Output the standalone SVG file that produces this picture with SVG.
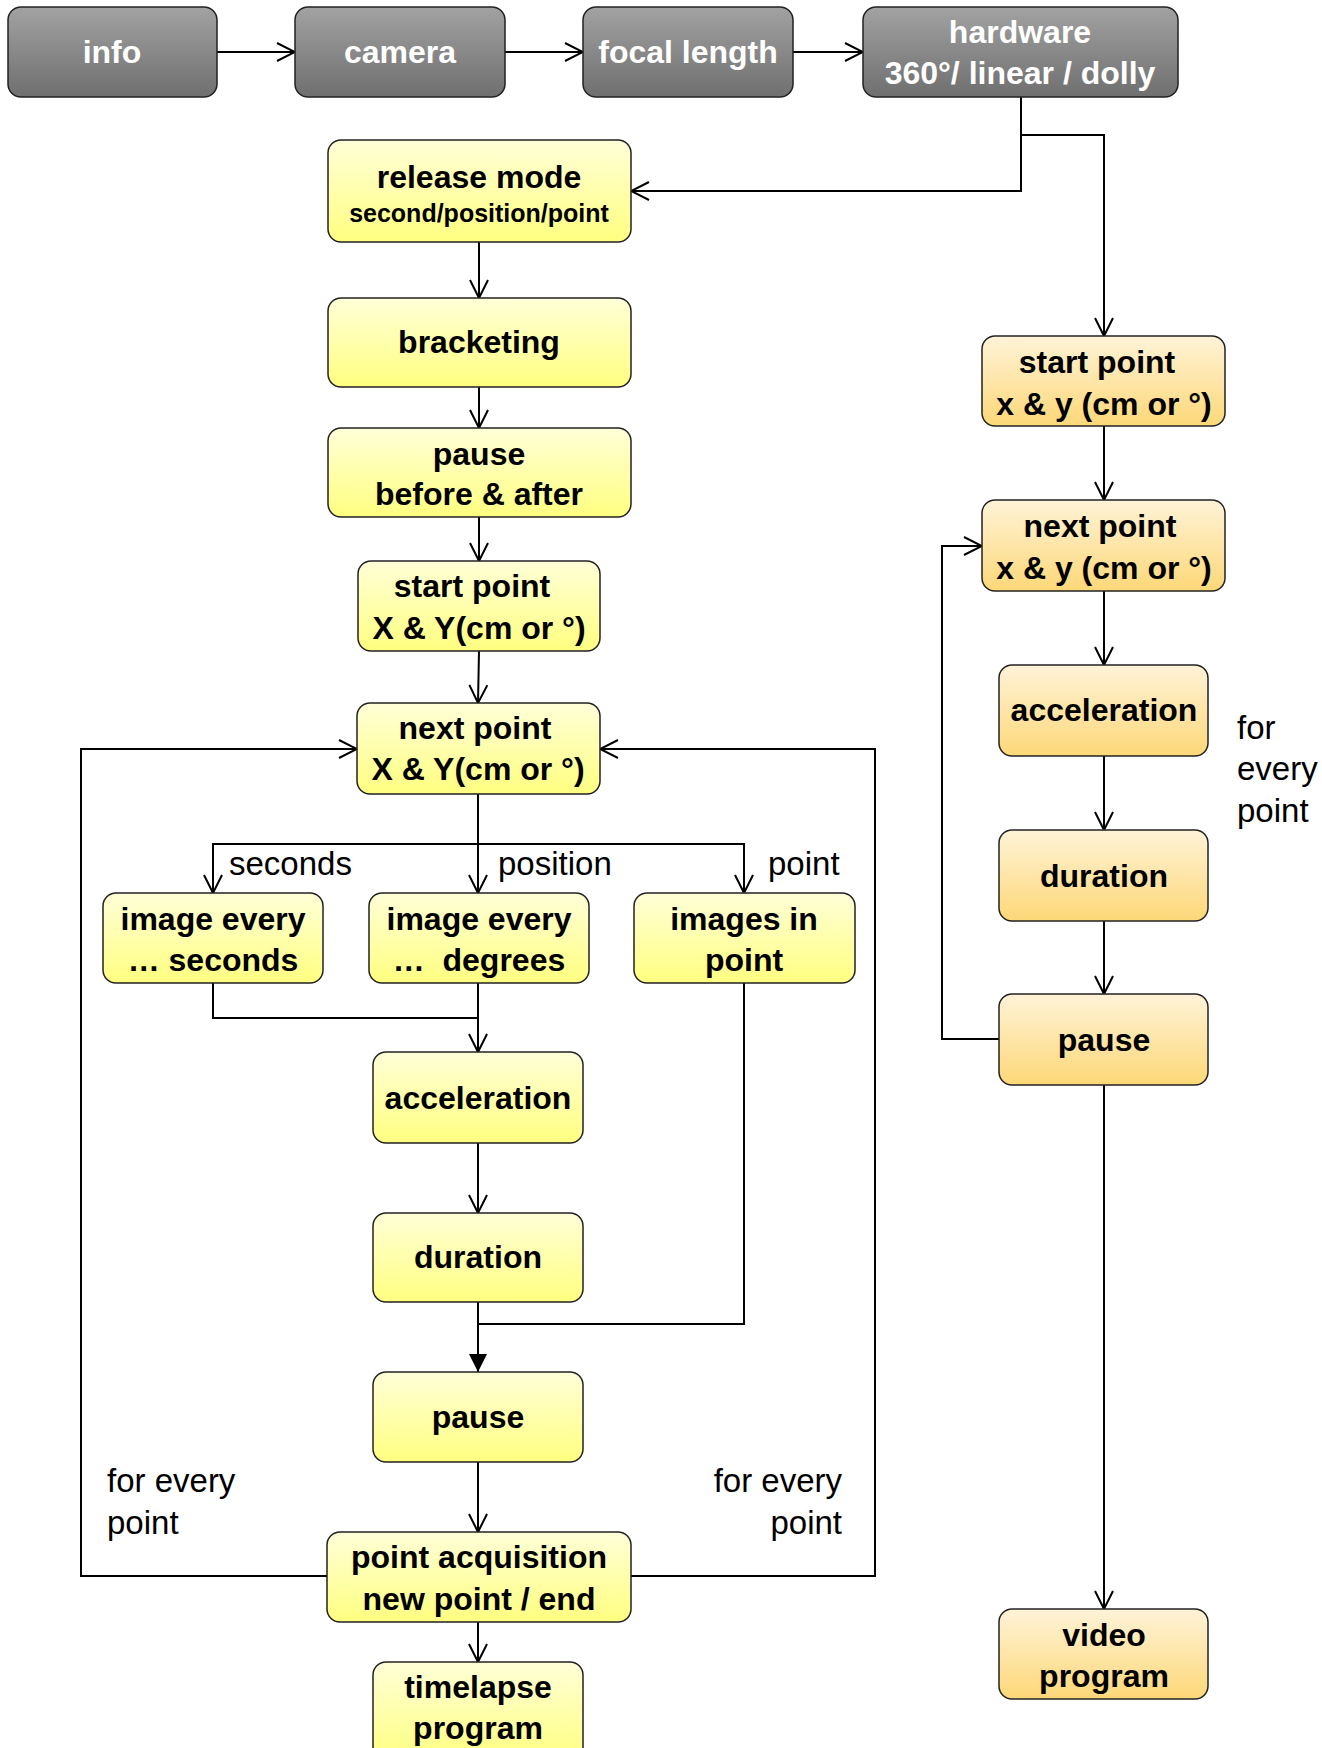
<svg xmlns="http://www.w3.org/2000/svg" width="1322" height="1748" viewBox="0 0 1322 1748">
<style>
.gray{fill:url(#gGray);stroke:#222;stroke-width:1.5}
.yel{fill:url(#gYel);stroke:#222;stroke-width:1.5}
.org{fill:url(#gOrg);stroke:#222;stroke-width:1.5}
.t{font-family:"Liberation Sans",Arial,sans-serif;font-weight:bold;font-size:32px;fill:#000;text-anchor:middle}
.tw{font-family:"Liberation Sans",Arial,sans-serif;font-weight:bold;font-size:32px;fill:#fff;text-anchor:middle}
.ts{font-family:"Liberation Sans",Arial,sans-serif;font-weight:bold;font-size:25px;fill:#000;text-anchor:middle}
.lab{font-family:"Liberation Sans",Arial,sans-serif;font-size:33px;fill:#000}
.c{fill:none;stroke:#000;stroke-width:2}
</style>
<defs>
<linearGradient id="gGray" x1="0" y1="0" x2="0" y2="1"><stop offset="0" stop-color="#a2a2a2"/><stop offset="1" stop-color="#6f6f6f"/></linearGradient>
<linearGradient id="gYel" x1="0" y1="0" x2="0" y2="1"><stop offset="0" stop-color="#ffffd8"/><stop offset="1" stop-color="#ffff80"/></linearGradient>
<linearGradient id="gOrg" x1="0" y1="0" x2="0" y2="1"><stop offset="0" stop-color="#fff3d8"/><stop offset="1" stop-color="#fdd878"/></linearGradient>
<marker id="a" viewBox="0 0 20 20" refX="19" refY="10" markerWidth="20" markerHeight="20" markerUnits="userSpaceOnUse" orient="auto">
<path d="M1,1 L19,10 L1,19" fill="none" stroke="#000" stroke-width="2"/>
</marker>
<marker id="f" viewBox="0 0 20 20" refX="19" refY="10" markerWidth="20" markerHeight="20" markerUnits="userSpaceOnUse" orient="auto">
<path d="M1,1 L19,10 L1,19 Z" fill="#000"/>
</marker>
</defs>

<g id="connectors">
<line class="c" x1="217" y1="52" x2="295" y2="52" marker-end="url(#a)"/>
<line class="c" x1="505" y1="52" x2="583" y2="52" marker-end="url(#a)"/>
<line class="c" x1="793" y1="52" x2="863" y2="52" marker-end="url(#a)"/>
<polyline class="c" points="1021,97 1021,191 631,191" marker-end="url(#a)"/>
<polyline class="c" points="1021,135 1104,135 1104,336" marker-end="url(#a)"/>
<line class="c" x1="479" y1="242" x2="479" y2="298" marker-end="url(#a)"/>
<line class="c" x1="479" y1="387" x2="479" y2="428" marker-end="url(#a)"/>
<line class="c" x1="479" y1="517" x2="479" y2="561" marker-end="url(#a)"/>
<line class="c" x1="479" y1="651" x2="478" y2="703" marker-end="url(#a)"/>
<line class="c" x1="478" y1="794" x2="478" y2="893" marker-end="url(#a)"/>
<polyline class="c" points="478,844 213,844 213,893" marker-end="url(#a)"/>
<polyline class="c" points="478,844 744,844 744,893" marker-end="url(#a)"/>
<polyline class="c" points="213,983 213,1018 478,1018"/>
<line class="c" x1="478" y1="983" x2="478" y2="1052" marker-end="url(#a)"/>
<line class="c" x1="478" y1="1143" x2="478" y2="1213" marker-end="url(#a)"/>
<line class="c" x1="478" y1="1302" x2="478" y2="1372" marker-end="url(#f)"/>
<polyline class="c" points="744,983 744,1324 478,1324"/>
<line class="c" x1="478" y1="1462" x2="478" y2="1532" marker-end="url(#a)"/>
<line class="c" x1="478" y1="1622" x2="478" y2="1662" marker-end="url(#a)"/>
<polyline class="c" points="327,1576 81,1576 81,749 357,749" marker-end="url(#a)"/>
<polyline class="c" points="631,1576 875,1576 875,749 600,749" marker-end="url(#a)"/>
<line class="c" x1="1104" y1="426" x2="1104" y2="500" marker-end="url(#a)"/>
<line class="c" x1="1104" y1="591" x2="1104" y2="665" marker-end="url(#a)"/>
<line class="c" x1="1104" y1="756" x2="1104" y2="830" marker-end="url(#a)"/>
<line class="c" x1="1104" y1="921" x2="1104" y2="994" marker-end="url(#a)"/>
<line class="c" x1="1104" y1="1085" x2="1104" y2="1609" marker-end="url(#a)"/>
<polyline class="c" points="999,1039 942,1039 942,546 982,546" marker-end="url(#a)"/>
</g>

<g id="labels">
<text class="lab" x="229" y="875">seconds</text>
<text class="lab" x="498" y="875">position</text>
<text class="lab" x="768" y="875">point</text>
<text class="lab" x="107" y="1492">for every</text>
<text class="lab" x="107" y="1534">point</text>
<text class="lab" x="842" y="1492" text-anchor="end">for every</text>
<text class="lab" x="842" y="1534" text-anchor="end">point</text>
<text class="lab" x="1237" y="739">for</text>
<text class="lab" x="1237" y="780">every</text>
<text class="lab" x="1237" y="822">point</text>
</g>

<g id="n-info"><rect class="gray" x="8" y="7" width="209" height="90" rx="13"/><text class="tw" x="112" y="63">info</text></g>
<g id="n-camera"><rect class="gray" x="295" y="7" width="210" height="90" rx="13"/><text class="tw" x="400" y="63">camera</text></g>
<g id="n-focal"><rect class="gray" x="583" y="7" width="210" height="90" rx="13"/><text class="tw" x="688" y="63">focal length</text></g>
<g id="n-hardware"><rect class="gray" x="863" y="7" width="315" height="90" rx="13"/><text class="tw" x="1020" y="43">hardware</text><text class="tw" x="1020" y="84">360°/ linear / dolly</text></g>

<g id="n-release"><rect class="yel" x="328" y="140" width="303" height="102" rx="13"/><text class="t" x="479" y="188">release mode</text><text class="ts" x="479" y="222">second/position/point</text></g>
<g id="n-bracketing"><rect class="yel" x="328" y="298" width="303" height="89" rx="13"/><text class="t" x="479" y="353">bracketing</text></g>
<g id="n-pause1"><rect class="yel" x="328" y="428" width="303" height="89" rx="13"/><text class="t" x="479" y="465">pause</text><text class="t" x="479" y="505">before &amp; after</text></g>
<g id="n-start1"><rect class="yel" x="358" y="561" width="242" height="90" rx="13"/><text class="t" x="472" y="597">start point</text><text class="t" x="479" y="639">X &amp; Y(cm or °)</text></g>
<g id="n-next1"><rect class="yel" x="357" y="703" width="243" height="91" rx="13"/><text class="t" x="475" y="739">next point</text><text class="t" x="478" y="780">X &amp; Y(cm or °)</text></g>
<g id="n-seconds"><rect class="yel" x="103" y="893" width="220" height="90" rx="13"/><text class="t" x="213" y="930">image every</text><text class="t" x="213" y="971">… seconds</text></g>
<g id="n-degrees"><rect class="yel" x="369" y="893" width="220" height="90" rx="13"/><text class="t" x="479" y="930">image every</text><text class="t" x="479" y="971" xml:space="preserve">…  degrees</text></g>
<g id="n-imgpoint"><rect class="yel" x="634" y="893" width="221" height="90" rx="13"/><text class="t" x="744" y="930">images in</text><text class="t" x="744" y="971">point</text></g>
<g id="n-accel1"><rect class="yel" x="373" y="1052" width="210" height="91" rx="13"/><text class="t" x="478" y="1109">acceleration</text></g>
<g id="n-dur1"><rect class="yel" x="373" y="1213" width="210" height="89" rx="13"/><text class="t" x="478" y="1268">duration</text></g>
<g id="n-pause2"><rect class="yel" x="373" y="1372" width="210" height="90" rx="13"/><text class="t" x="478" y="1428">pause</text></g>
<g id="n-acq"><rect class="yel" x="327" y="1532" width="304" height="90" rx="13"/><text class="t" x="479" y="1568">point acquisition</text><text class="t" x="479" y="1610">new point / end</text></g>
<g id="n-timelapse"><rect class="yel" x="373" y="1662" width="210" height="100" rx="13"/><text class="t" x="478" y="1698">timelapse</text><text class="t" x="478" y="1739">program</text></g>

<g id="n-start2"><rect class="org" x="982" y="336" width="243" height="90" rx="13"/><text class="t" x="1097" y="373">start point</text><text class="t" x="1104" y="415">x &amp; y (cm or °)</text></g>
<g id="n-next2"><rect class="org" x="982" y="500" width="243" height="91" rx="13"/><text class="t" x="1100" y="537">next point</text><text class="t" x="1104" y="579">x &amp; y (cm or °)</text></g>
<g id="n-accel2"><rect class="org" x="999" y="665" width="209" height="91" rx="13"/><text class="t" x="1104" y="721">acceleration</text></g>
<g id="n-dur2"><rect class="org" x="999" y="830" width="209" height="91" rx="13"/><text class="t" x="1104" y="887">duration</text></g>
<g id="n-pause3"><rect class="org" x="999" y="994" width="209" height="91" rx="13"/><text class="t" x="1104" y="1051">pause</text></g>
<g id="n-video"><rect class="org" x="999" y="1609" width="209" height="90" rx="13"/><text class="t" x="1104" y="1646">video</text><text class="t" x="1104" y="1687">program</text></g>
</svg>
